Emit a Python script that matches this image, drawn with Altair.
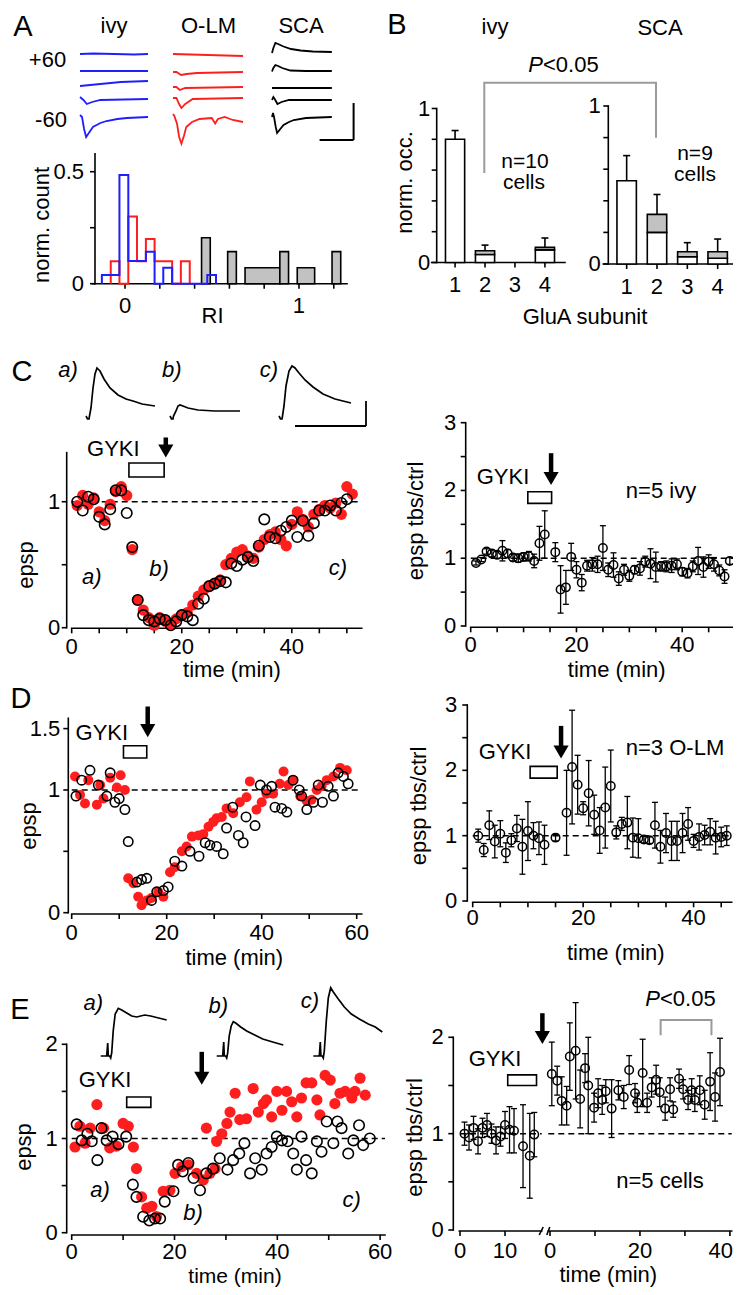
import altair as alt
import pandas as pd

# ============================ DATA ============================
# Panel A - example current traces (time units, deflection), 5 holding potentials per cell type
A_IVY_T = [[0, 20, 50, 80, 100], [0, 100], [0, 30, 60, 100], [0, 5, 10, 18, 30, 100],
           [0, 3, 6, 9, 13, 19, 30, 39, 55, 69, 100]]
A_IVY_V = [[0, 0.5, 0, -0.5, 0], [0, 0], [-1, 1, 3, 4], [2, -1, -5, -3, -1, 0],
           [2, 0, -12, -20, -16, -10, -6, -4, -2, -1, 0]]
A_OLM_T = [[0, 103], [0, 5, 12, 20, 35, 103], [0, 5, 10, 18, 103], [0, 5, 9, 12.4, 18, 29, 103],
           [0, 2, 6, 9, 12.4, 16, 19.5, 28, 39, 57, 62, 66, 76, 88, 103]]
A_OLM_V = [[1, -1], [0, 0, -3, -2, -1, 0], [0, 0, -3, -1, 0], [0, 0, -6, -10, -6, -1, 0],
           [8, 6, -2, -15, -21.7, -14, -5, 0, 3, 4, -1.5, 3, 5, 2, 0]]
A_SCA_T = [[0, 2, 5, 9, 17, 28, 42, 60, 88], [0, 2, 5, 9, 15, 27, 50, 88], [0, 88],
           [0, 2, 4, 8, 14, 25, 88], [0, 1.5, 3, 5.5, 7.5, 11, 17, 25, 32, 50, 88]]
A_SCA_V = [[-1, 4, 9, 8, 5.5, 3, 1.5, 0.5, 0], [-0.5, 3, 6, 5, 3, 0.5, 0, 0], [0, 0],
           [0, 3, 1, -4, -2, 0, 0], [0, 4, 0, -10, -16, -13, -8, -5, -3, -1, 0]]

# Panel A - RI histograms
H_BLUE_EDGES = [-0.133, -0.082, -0.032, 0.019, 0.069, 0.12, 0.17, 0.22, 0.271, 0.321, 0.372, 0.422, 0.473, 0.523]
H_BLUE = [0.039, 0.039, 0.485, 0.101, 0.101, 0.143, 0, 0.071, 0, 0, 0, 0, 0.039]
H_RED_EDGES = [-0.082, -0.032, 0.019, 0.069, 0.12, 0.17, 0.22, 0.271, 0.321, 0.372]
H_RED = [0.1, 0, 0.3, 0.1, 0.2, 0.1, 0.1, 0, 0.1]
H_GRAY_LO = [0.44, 0.59, 0.69, 0.89, 0.99, 1.19]
H_GRAY_HI = [0.49, 0.64, 0.89, 0.94, 1.09, 1.24]
H_GRAY = [0.205, 0.143, 0.071, 0.143, 0.071, 0.143]

# Panel B - GluA subunit occupancy
B_SUB = [1, 2, 3, 4]
B_IVY_MEAN = [0.80, 0.076, 0.0, 0.098]
B_IVY_WHITE = [0.80, 0.052, 0.0, 0.082]
B_IVY_ERR = [0.057, 0.037, 0.0, 0.061]
B_SCA_MEAN = [0.527, 0.314, 0.078, 0.078]
B_SCA_WHITE = [0.527, 0.20, 0.046, 0.036]
B_SCA_ERR = [0.159, 0.126, 0.057, 0.08]

# Inset epsp traces (C and E): (time, deflection)
C_TR_T = [[0, 1.5, 3, 3.5, 5, 7, 9, 11, 14, 18, 24, 32, 40, 47, 56, 69],
          [0, 1.5, 3, 3.5, 6, 8, 10, 13, 18, 28, 45, 70],
          [0, 1.5, 3, 3.5, 5, 7, 10, 13, 16, 20, 26, 34, 44, 56, 72]]
C_TR_V = [[0, -3, -3, 0, 8, 28, 42, 48, 45, 37, 28, 21, 17, 15, 12, 10],
          [0, -3, -3, 0, 5, 10, 11, 10, 8, 6, 5, 5],
          [0, -3, -3, 0, 10, 30, 45, 50, 48, 43, 36, 29, 22, 17, 13]]
E_TR_T = [[0, 6, 7, 7.6, 9, 10, 11, 12.5, 14.5, 17.6, 21, 26, 31, 36, 40, 44, 50, 58, 66],
          [0, 6, 7, 7.6, 9, 10, 11, 12.5, 14.5, 16.6, 19, 24, 30, 38, 46, 56, 66.6],
          [0, 6, 7, 7.6, 9, 10, 11, 13, 15, 17.4, 20, 25, 31, 38, 46, 55, 62, 69]]
E_TR_V = [[0, 0, 13, 0, 0, -2, 3, 25, 42, 47.7, 46, 43, 40, 39, 40, 41, 40, 38, 36],
          [0, 0, 14, 0, 0, -2, 3, 20, 30, 34.3, 33, 29, 25, 21, 17, 14, 11],
          [0, 0, 14, 0, 0, -2, 5, 35, 58, 68.3, 64, 57, 49, 42, 37, 32, 29, 24]]

# Panel C left
CL_RED_T = list(range(1, 52))
CL_RED_V = [0.97, 1.05, 0.98, 1.03, 0.92, 0.85, 0.98, 1.08, 1.12, 1.05,
            0.62, 0.22, 0.14, 0.08, 0.02, 0.08, 0.05, 0.03, 0.07, 0.10,
            0.12, 0.18, 0.25, 0.30, 0.33, 0.35, 0.38, 0.50, 0.55, 0.60,
            0.62, 0.57, 0.55, 0.64, 0.70, 0.74, 0.76, 0.70, 0.65, 0.82,
            0.92, 0.86, 0.80, 0.90, 0.94, 0.97, 0.95, 0.99, 0.90, 1.12, 1.06]
CL_BLK_T = list(range(1, 51))
CL_BLK_V = [1.00, 0.93, 1.04, 1.02, 0.88, 0.82, 0.94, 1.09, 1.09, 0.91,
            0.64, 0.22, 0.10, 0.06, 0.05, 0.07, 0.06, 0.02, 0.05, 0.10,
            0.09, 0.06, 0.19, 0.23, 0.33, 0.35, 0.37, 0.36, 0.51, 0.49,
            0.54, 0.56, 0.53, 0.65, 0.86, 0.72, 0.71, 0.77, 0.80, 0.85,
            0.72, 0.85, 0.73, 0.83, 0.93, 0.93, 0.97, 0.93, 0.99, 1.02]

# Panel C right (n=5 ivy)
CR_T = list(range(1, 15)) + list(range(16, 50))
CR_V = [0.93, 0.98, 1.10, 1.07, 1.05, 1.11, 1.07, 1.01, 1.00, 1.02, 1.03, 0.96, 1.22, 1.35,
        1.09, 0.54, 0.57, 1.02, 0.83, 0.64, 0.89, 0.91, 0.91, 1.15,
        0.83, 0.90, 0.70, 0.83, 0.74, 0.83, 0.85, 0.95, 0.92, 0.87,
        0.88, 0.88, 0.89, 0.91, 0.80, 0.78, 0.88, 0.96, 0.87, 0.95,
        0.91, 0.82, 0.73, 0.96]
CR_E = [0.03, 0.03, 0.04, 0.05, 0.05, 0.15, 0.06, 0.05, 0.06, 0.06, 0.07, 0.10, 0.25, 0.35,
        0.14, 0.35, 0.25, 0.20, 0.12, 0.12, 0.08, 0.10, 0.12, 0.33,
        0.10, 0.18, 0.10, 0.08, 0.08, 0.06, 0.10, 0.08, 0.22, 0.22,
        0.07, 0.08, 0.10, 0.08, 0.06, 0.07, 0.08, 0.20, 0.15, 0.10,
        0.10, 0.08, 0.10, 0.05]

# Panel D left
DL_BLK_T = [0.9, 2.1, 3.85, 5.6, 7.4, 8.1, 9.1, 10.0, 11.2, 11.9,
            13.7, 14.7, 15.8, 16.8, 17.9, 19.3, 20.3, 21.7, 23.2, 24.9,
            26.8, 28.1, 29.1, 30.5, 31.9, 32.6, 33.9, 35.1, 36.1, 36.7,
            38.6, 39.7, 41.0, 42.1, 42.8, 44.2, 45.3, 46.6, 47.9, 48.4,
            49.5, 50.9, 51.9, 52.8, 54.0, 55.1, 56.1, 57.2, 58.2]
DL_BLK_V = [0.95, 1.08, 1.16, 1.04, 0.95, 1.14, 0.90, 0.93, 0.84, 0.58,
            0.25, 0.27, 0.28, 0.10, 0.17, 0.18, 0.21, 0.42, 0.38, 0.50,
            0.46, 0.57, 0.55, 0.54, 0.48, 0.69, 0.86, 0.63, 0.57, 0.78,
            0.71, 1.04, 1.00, 1.03, 0.86, 0.85, 0.82, 1.08, 1.00, 0.95,
            0.84, 0.90, 1.04, 0.90, 1.03, 0.95, 1.14, 1.11, 1.05]
DL_RED_T = [0.7, 1.75, 2.8, 3.5, 5.3, 6.0, 6.7, 8.1, 9.5, 10.3,
            11.2, 11.9, 13.0, 14.0, 14.7, 15.8, 16.8, 18.2, 19.3, 20.7,
            21.7, 23.2, 24.2, 25.3, 26.7, 27.7, 28.8, 29.8, 30.5, 31.6,
            32.6, 34.0, 35.4, 36.8, 37.5, 38.9, 40.0, 41.0, 42.4, 43.8,
            44.6, 45.6, 46.6, 48.1, 49.5, 50.5, 51.6, 52.6, 53.7, 55.1,
            56.5, 57.9]
DL_RED_V = [1.11, 0.96, 0.89, 1.08, 0.88, 1.04, 0.93, 1.10, 1.02, 1.12,
            1.00, 0.28, 0.24, 0.13, 0.06, 0.10, 0.12, 0.17, 0.13, 0.33,
            0.37, 0.50, 0.54, 0.62, 0.63, 0.64, 0.70, 0.74, 0.77, 0.78,
            0.85, 0.81, 0.90, 0.94, 1.07, 0.84, 0.90, 0.97, 0.97, 1.05,
            1.15, 1.04, 1.08, 0.95, 0.91, 0.92, 1.00, 1.03, 1.08, 1.11,
            1.18, 1.16]

# Panel D right (n=3 O-LM)
DR_T = list(range(1, 14)) + [15] + list(range(17, 47))
DR_V = [1.00, 0.78, 1.16, 0.91, 1.03, 0.74, 0.93, 1.11, 0.83, 1.07, 1.00, 0.96, 0.86,
        0.97,
        1.35, 2.05, 1.78, 1.42, 1.65, 1.32, 1.08, 1.43, 1.76, 1.05,
        1.18, 1.20, 0.97, 0.96, 0.94, 0.93, 1.16, 0.83, 1.04, 0.92,
        0.92, 1.04, 1.18, 0.92, 0.98, 1.01, 1.06, 0.97, 0.98, 1.00]
DR_E = [0.10, 0.10, 0.22, 0.25, 0.20, 0.15, 0.10, 0.20, 0.42, 0.45, 0.20, 0.25, 0.30,
        0.05,
        0.65, 0.87, 0.45, 0.10, 0.50, 0.30, 0.35, 0.62, 0.55, 0.10,
        0.10, 0.40, 0.30, 0.30, 0.05, 0.05, 0.35, 0.25, 0.30, 0.30,
        0.30, 0.30, 0.25, 0.10, 0.20, 0.15, 0.20, 0.25, 0.15, 0.15]

# Panel E left
EL_BLK_T = [0.97, 1.95, 3.05, 3.9, 5.0, 5.8, 6.8, 7.96, 9.1, 10.6,
            11.9, 12.6, 13.9, 15.1, 16.2, 17.2, 18.1, 19.8, 20.7, 21.6,
            22.7, 23.7, 24.96, 26.2, 27.5, 28.8, 30.3, 31.4, 32.6, 33.6,
            34.7, 35.7, 36.96, 37.9, 38.9, 39.9, 40.9, 42.0, 43.1, 43.8,
            44.7, 45.6, 46.7, 47.7, 48.6, 49.6, 50.9, 51.7, 52.5, 53.8,
            54.8, 55.9, 56.7, 58.0]
EL_BLK_V = [1.15, 0.98, 1.05, 0.97, 0.77, 1.11, 0.98, 1.02, 0.94, 1.02,
            0.51, 0.38, 0.17, 0.13, 0.15, 0.15, 0.33, 0.44, 0.72, 0.65,
            0.74, 0.58, 0.45, 0.63, 0.68, 0.79, 0.67, 0.77, 0.84, 0.95,
            0.63, 0.79, 0.67, 0.84, 0.91, 1.02, 0.98, 0.97, 0.84, 0.67,
            1.02, 0.77, 0.63, 0.97, 0.86, 1.18, 0.95, 1.18, 1.11, 0.84,
            0.98, 1.14, 0.93, 1.00]
EL_RED_T = [0.65, 1.6, 2.6, 3.6, 4.9, 6.2, 7.4, 8.7, 10.0, 11.0,
            12.0, 12.6, 13.6, 14.6, 15.6, 16.5, 17.8, 19.1, 20.1, 21.4,
            22.7, 24.3, 25.6, 26.2, 26.9, 27.9, 28.2, 29.2, 30.2, 30.8,
            31.8, 32.7, 34.0, 35.3, 36.3, 37.3, 37.9, 38.9, 39.9, 40.9,
            41.8, 42.8, 43.8, 44.7, 45.6, 46.7, 47.7, 48.3, 49.3, 50.3,
            51.2, 52.2, 53.2, 54.5, 55.1, 56.1, 57.1]
EL_RED_V = [0.91, 1.13, 0.95, 1.11, 1.36, 1.11, 0.90, 0.92, 1.16, 1.13,
            0.91, 0.68, 0.38, 0.26, 0.28, 0.17, 0.44, 0.45, 0.63, 0.70,
            0.72, 0.63, 0.56, 1.11, 0.63, 0.68, 0.97, 1.05, 1.16, 1.28,
            1.48, 1.20, 1.21, 1.53, 1.28, 1.37, 1.41, 1.23, 1.50, 1.30,
            1.50, 1.39, 1.23, 1.43, 1.59, 1.59, 1.41, 1.25, 1.67, 1.62,
            1.37, 1.48, 1.50, 1.43, 1.50, 1.64, 1.46]

# Panel E right (n=5 cells): baseline segment and post-TBS segment
ER1_T = [1, 2, 3, 4, 5, 6, 7, 8, 9, 10, 11, 12, 14, 15.5, 16.5]
ER1_V = [1.00, 0.96, 1.06, 0.92, 1.06, 1.09, 1.00, 0.93, 0.97, 1.09, 1.04, 1.03, 0.87, 0.77, 0.99]
ER1_E = [0.12, 0.13, 0.12, 0.13, 0.10, 0.12, 0.10, 0.14, 0.10, 0.14, 0.24, 0.23, 0.43, 0.44, 0.23]
ER2_T = [0.4, 1.6, 2.6, 3.7, 4.4, 5.7, 6.7, 7.8, 8.5, 9.8,
         10.7, 11.6, 12.4, 13.7, 15.2, 16.4, 17.6, 18.9, 19.4, 20.6,
         21.6, 22.6, 23.6, 24.4, 25.6, 26.7, 27.4, 28.7, 29.6, 30.7,
         31.5, 32.2, 33.3, 34.4, 35.6, 36.7, 37.8]
ER2_V = [1.62, 1.55, 1.34, 1.29, 1.80, 1.86, 1.36, 1.68, 1.50, 1.27,
         1.42, 1.35, 1.44, 1.26, 1.45, 1.38, 1.66, 1.42, 1.32, 1.63,
         1.32, 1.48, 1.56, 1.43, 1.26, 1.46, 1.25, 1.57, 1.46, 1.35,
         1.45, 1.35, 1.45, 1.30, 1.54, 1.38, 1.64]
ER2_E = [0.33, 0.15, 0.25, 0.20, 0.35, 0.50, 0.30, 0.15, 0.50, 0.15,
         0.15, 0.15, 0.12, 0.30, 0.10, 0.12, 0.15, 0.10, 0.10, 0.35,
         0.10, 0.10, 0.15, 0.15, 0.12, 0.12, 0.08, 0.10, 0.10, 0.10,
         0.12, 0.12, 0.15, 0.15, 0.30, 0.25, 0.35]

# ============================ STYLE / LAYOUT ============================
FONT = "Liberation Sans"
FS = 22
RED = "#ff1e1e"
BLUE = "#1e1eff"
BRACKET = "#9a9a9a"
FILL = "#c2c2c2"
AXW = 1.6
TICK = 5
W, H = 725, 1279


def P(v):
    return v - 8


def sc(domain, r0, r1):
    return alt.Scale(domain=list(domain), range=[P(r0), P(r1)], nice=False, zero=False)


def ex(f, s):
    return alt.X(f, type="quantitative", scale=s, axis=None)


def ey(f, s):
    return alt.Y(f, type="quantitative", scale=s, axis=None)


def yaxis_marks(xs, ys, xat, y0, y1, ticks, labels, dx, pad):
    d = pd.DataFrame({"x": [xat], "y": [y0], "y2": [y1]})
    line = alt.Chart(d).mark_rule(color="black", strokeWidth=AXW, xOffset=dx, strokeCap="square").encode(
        x=ex("x", xs), y=ey("y", ys), y2="y2")
    dt = pd.DataFrame({"x": [xat] * len(ticks), "y": ticks})
    tk = alt.Chart(dt).mark_rule(color="black", strokeWidth=AXW, xOffset=dx, x2Offset=dx - TICK).encode(
        x=ex("x", xs), x2="x", y=ey("y", ys))
    dl = pd.DataFrame({"x": [xat] * len(labels), "y": list(labels.keys()), "t": list(labels.values())})
    lb = alt.Chart(dl).mark_text(font=FONT, fontSize=FS, align="right", baseline="middle",
                                 dx=dx - TICK - pad, color="black").encode(
        x=ex("x", xs), y=ey("y", ys), text=alt.Text("t", type="nominal"))
    return [line, tk, lb]


def xaxis_marks(xs, ys, yat, x0, x1, ticks, labels, dy, pad, last_right=False):
    d = pd.DataFrame({"x": [x0], "x2": [x1], "y": [yat]})
    line = alt.Chart(d).mark_rule(color="black", strokeWidth=AXW, yOffset=dy, strokeCap="square").encode(
        x=ex("x", xs), x2="x2", y=ey("y", ys))
    dt = pd.DataFrame({"x": ticks, "y": [yat] * len(ticks)})
    tk = alt.Chart(dt).mark_rule(color="black", strokeWidth=AXW, yOffset=dy, y2Offset=dy + TICK).encode(
        x=ex("x", xs), y=ey("y", ys), y2="y")
    keys = list(labels.keys())
    main = keys[:-1] if last_right else keys
    out = [line, tk]
    dl = pd.DataFrame({"x": main, "y": [yat] * len(main), "t": [labels[k] for k in main]})
    out.append(alt.Chart(dl).mark_text(font=FONT, fontSize=FS, align="center", baseline="top",
                                       dy=dy + TICK + pad, color="black").encode(
        x=ex("x", xs), y=ey("y", ys), text=alt.Text("t", type="nominal")))
    if last_right:
        dr = pd.DataFrame({"x": [keys[-1]], "y": [yat], "t": [labels[keys[-1]]]})
        out.append(alt.Chart(dr).mark_text(font=FONT, fontSize=FS, align="right", baseline="top",
                                           dx=3, dy=dy + TICK + pad, color="black").encode(
            x=ex("x", xs), y=ey("y", ys), text=alt.Text("t", type="nominal")))
    return out


def dash(xs, ys, x0, x1):
    d = pd.DataFrame({"x": [x0], "x2": [x1], "y": [1.0]})
    return alt.Chart(d).mark_rule(color="black", strokeWidth=1.5, strokeDash=[6, 4]).encode(
        x=ex("x", xs), x2="x2", y=ey("y", ys))


def gyki(xs, ys, t0, t1, v0, v1):
    d = pd.DataFrame({"x": [t0], "x2": [t1], "y": [v0], "y2": [v1]})
    return alt.Chart(d).mark_rect(fill="white", stroke="black", strokeWidth=1.6).encode(
        x=ex("x", xs), x2="x2", y=ey("y", ys), y2="y2")


def arrow(xs, ys, t, vtop, vtip):
    d = pd.DataFrame({"x": [t], "y": [vtop], "y2": [vtip]})
    shaft = alt.Chart(d).mark_rule(color="black", strokeWidth=4.5, y2Offset=-8).encode(
        x=ex("x", xs), y=ey("y", ys), y2="y2")
    head = alt.Chart(d).mark_point(shape="triangle-down", filled=True, size=230, color="black",
                                   opacity=1, yOffset=-6.6, strokeWidth=0).encode(
        x=ex("x", xs), y=ey("y2", ys))
    return [shaft, head]


def ocirc(xs, ys, t, v, size, sw=1.6):
    d = pd.DataFrame({"x": t, "y": v})
    return alt.Chart(d).mark_point(shape="circle", filled=False, size=size, color="black",
                                   strokeWidth=sw, opacity=1).encode(x=ex("x", xs), y=ey("y", ys))


def fcirc(xs, ys, t, v, size):
    d = pd.DataFrame({"x": t, "y": v})
    return alt.Chart(d).mark_circle(size=size, color=RED, opacity=1).encode(
        x=ex("x", xs), y=ey("y", ys))


def errbars(xs, ys, t, v, e, cap=6):
    d = pd.DataFrame({"x": t, "lo": [a - b for a, b in zip(v, e)], "hi": [a + b for a, b in zip(v, e)]})
    r = alt.Chart(d).mark_rule(color="black", strokeWidth=1.3).encode(x=ex("x", xs), y=ey("lo", ys), y2="hi")
    c1 = alt.Chart(d).mark_tick(orient="horizontal", size=cap, thickness=1.3, color="black", opacity=1).encode(
        x=ex("x", xs), y=ey("lo", ys))
    c2 = alt.Chart(d).mark_tick(orient="horizontal", size=cap, thickness=1.3, color="black", opacity=1).encode(
        x=ex("x", xs), y=ey("hi", ys))
    return [r, c1, c2]


def lines(rows, xs, ys, color, width):
    d = pd.DataFrame(rows)
    return alt.Chart(d).mark_line(color=color, strokeWidth=width).encode(
        x=ex("x", xs), y=ey("y", ys), detail="id:N", order="k:Q")


def segs(xs, ys, rows, color="black", width=1.8):
    d = pd.DataFrame(rows, columns=["x", "y", "x2", "y2"])
    return alt.Chart(d).mark_rule(color=color, strokeWidth=width).encode(
        x=ex("x", xs), y=ey("y", ys), x2="x2", y2="y2")


children = []

# ---------------- Panel A traces ----------------
A_TOP = 45
for T, V, bases, x0, x1, xmax, col in [
        (A_IVY_T, A_IVY_V, [54, 71, 85, 99, 117], 80, 148, 100, BLUE),
        (A_OLM_T, A_OLM_V, [55, 72, 87, 98, 122], 173, 243.04, 103, RED),
        (A_SCA_T, A_SCA_V, [52, 71, 88, 100, 117], 272, 331.84, 88, "black")]:
    rows = []
    for j, (tt, vv) in enumerate(zip(T, V)):
        for k, (a, b) in enumerate(zip(tt, vv)):
            rows.append({"id": j, "k": k, "x": a, "y": bases[j] - A_TOP - b})
    xs = sc([0, xmax], x0, x1)
    ys = sc([0, 100], A_TOP, A_TOP + 100)
    lay = [lines(rows, xs, ys, col, 1.8)]
    if col == "black":
        lay.append(segs(xs, ys, [(70, 95, 120, 95), (120, 58, 120, 95)], width=2))
    children.append(alt.layer(*lay))

# ---------------- Panel A histogram ----------------
HX = sc([-0.184, 1.276], 93, 347)
HY = sc([0, 0.58], 283.7, 153.8)
hist = yaxis_marks(HX, HY, -0.184, 0, 0.58, [0, 0.25, 0.5], {0: "0", 0.5: "0.5"}, 2, 6) + \
    xaxis_marks(HX, HY, 0, -0.184, 1.276, [0, 0.2, 0.4, 0.6, 0.8, 1.0, 1.2], {0: "0", 1: "1"}, 0, 7.5)
gdf = pd.DataFrame({"x": H_GRAY_LO, "x2": H_GRAY_HI, "y": [0] * len(H_GRAY), "y2": H_GRAY})
hist.append(alt.Chart(gdf).mark_rect(fill=FILL, stroke="black", strokeWidth=1.6).encode(
    x=ex("x", HX), x2="x2", y=ey("y", HY), y2="y2"))
for edges, hh, col in [(H_RED_EDGES, H_RED, RED), (H_BLUE_EDGES, H_BLUE, BLUE)]:
    xsv = [edges[0]] + edges[:-1] + [edges[-1]]
    ysv = [0] + list(hh) + [0]
    d = pd.DataFrame({"x": xsv, "y": ysv, "k": list(range(len(xsv)))})
    hist.append(alt.Chart(d).mark_line(color=col, strokeWidth=2, interpolate="step-after").encode(
        x=ex("x", HX), y=ey("y", HY), order="k:Q"))
children.append(alt.layer(*hist))


# ---------------- Panel B bars ----------------
def bar_panel(xs, ys, x0, x1, mean, white, err, ylabpad):
    half = 0.32
    d = pd.DataFrame({"s": B_SUB, "l": [s - half for s in B_SUB], "r": [s + half for s in B_SUB],
                      "z": [0] * 4, "w": white, "m": mean, "hi": [a + b for a, b in zip(mean, err)]})
    dw = d[d.w > 0]
    dg = d[d.m > d.w + 1e-9]
    de = d[d.m > 0]
    lay = yaxis_marks(xs, ys, x0, 0, 1, [0, 0.2, 0.4, 0.6, 0.8, 1.0], {0: "0", 1: "1"}, 5, ylabpad) + \
        xaxis_marks(xs, ys, 0, x0, x1, B_SUB, {1: "1", 2: "2", 3: "3", 4: "4"}, 0, 7.5)
    lay += [
        alt.Chart(de).mark_rule(color="black", strokeWidth=1.6).encode(
            x=ex("s", xs), y=ey("m", ys), y2="hi"),
        alt.Chart(de).mark_tick(orient="horizontal", size=7, thickness=1.6, color="black", opacity=1).encode(
            x=ex("s", xs), y=ey("hi", ys)),
        alt.Chart(dw).mark_rect(fill="white", stroke="black", strokeWidth=1.6).encode(
            x=ex("l", xs), x2="r", y=ey("z", ys), y2="w"),
        alt.Chart(dg).mark_rect(fill=FILL, stroke="black", strokeWidth=1.6).encode(
            x=ex("l", xs), x2="r", y=ey("w", ys), y2="m"),
    ]
    return alt.layer(*lay)


children.append(bar_panel(sc([0.22, 4.67], 431.7, 565), sc([0, 1], 262.5, 108.5), 0.22, 4.67,
                          B_IVY_MEAN, B_IVY_WHITE, B_IVY_ERR, 1.5))
children.append(bar_panel(sc([0.23, 4.68], 603.3, 738.3), sc([0, 1], 264, 106), 0.23, 4.68,
                          B_SCA_MEAN, B_SCA_WHITE, B_SCA_ERR, 2.5))
BRX = sc([0, 1], 484.3, 656)
BRY = sc([0, 1], 173, 82.7)
bd = pd.DataFrame({"x": [0, 0, 1, 1], "y": [0, 1, 1, 0.39], "k": [0, 1, 2, 3]})
children.append(alt.layer(alt.Chart(bd).mark_line(color=BRACKET, strokeWidth=2).encode(
    x=ex("x", BRX), y=ey("y", BRY), order="k:Q")))


# ---------------- inset traces (C, E) ----------------
def inset(T, V, offs, x0, base, ymax, bar=None):
    rows = []
    for j, (tt, vv) in enumerate(zip(T, V)):
        for k, (a, b) in enumerate(zip(tt, vv)):
            rows.append({"id": j, "k": k, "x": offs[j] + a, "y": b})
    xs = sc([0, 300], x0, x0 + 300)
    ys = sc([0, ymax], base, base - ymax)
    lay = [lines(rows, xs, ys, "black", 1.7)]
    if bar:
        lay.append(segs(xs, ys, bar, width=1.8))
    return alt.layer(*lay)


children.append(inset(C_TR_T, C_TR_V, [0, 84, 193], 86, 416, 60,
                      bar=[(209, -10, 280, -10), (280, -10, 280, 15)]))
children.append(inset(E_TR_T, E_TR_V, [0, 116, 212.6], 100.7, 1056, 80))


# ---------------- time-course panels ----------------
def left_panel(xdom, xr, ydom, yr, ydx, xdy, yt, yl, ylpad, xt, xl, xlpad, box, arr,
               red_t, red_v, blk_t, blk_v, rsize, bsize):
    xs = sc(xdom, *xr)
    ys = sc(ydom, *yr)
    lay = yaxis_marks(xs, ys, xdom[0], ydom[0], ydom[1], yt, yl, ydx, ylpad) + \
        xaxis_marks(xs, ys, ydom[0], xdom[0], xdom[1], xt, xl, xdy, xlpad)
    lay += [dash(xs, ys, xdom[0], xdom[1]), gyki(xs, ys, *box)] + arrow(xs, ys, *arr)
    lay += [fcirc(xs, ys, red_t, red_v, rsize), ocirc(xs, ys, blk_t, blk_v, bsize)]
    return alt.layer(*lay)


def right_panel(xdom, xr, ydom, yr, ydx, xdy, yt, yl, ylpad, xt, xl, xlpad, box, arr, t, v, e):
    xs = sc(xdom, *xr)
    ys = sc(ydom, *yr)
    lay = yaxis_marks(xs, ys, xdom[0], ydom[0], ydom[1], yt, yl, ydx, ylpad) + \
        xaxis_marks(xs, ys, ydom[0], xdom[0], xdom[1], xt, xl, xdy, xlpad)
    lay += [dash(xs, ys, xdom[0], xdom[1]), gyki(xs, ys, *box)] + arrow(xs, ys, *arr)
    lay += errbars(xs, ys, t, v, e) + [ocirc(xs, ys, t, v, 72, 1.5)]
    return alt.layer(*lay)


Y3 = [0, 0.5, 1, 1.5, 2, 2.5, 3]
L3 = {0: "0", 1: "1", 2: "2", 3: "3"}

children.append(left_panel([0, 52.7], (71.7, 361.7), [0, 1.39], (627.7, 452.6), -5, 0.6,
                           [0, 0.5, 1], {0: "0", 1: "1"}, 1.5,
                           list(range(0, 51, 5)), {0: "0", 20: "20", 40: "40"}, 3.4,
                           (10.4, 16.8, 1.196, 1.307), (17.1, 1.51, 1.35),
                           CL_RED_T, CL_RED_V, CL_BLK_T, CL_BLK_V, 125, 110))
children.append(right_panel([0, 50.3], (470.7, 736.7), [0, 3], (626, 422.7), -5, 1.3,
                            Y3, L3, 4.5, list(range(0, 51, 5)), {0: "0", 20: "20", 40: "40"}, 2.8,
                            (10.8, 15.3, 1.81, 1.98), (15.2, 2.55, 2.08), CR_T, CR_V, CR_E))
children.append(left_panel([0, 61.05], (71.7, 361.7), [0, 1.584], (912.7, 718.3), -3.4, 1.3,
                           [0, 0.5, 1, 1.5], {0: "0", 1: "1", 1.5: "1.5"}, 3,
                           list(range(0, 61, 10)), {0: "0", 20: "20", 40: "40", 60: "60"}, 4.4,
                           (10.9, 15.8, 1.26, 1.36), (16, 1.68, 1.43),
                           DL_RED_T, DL_RED_V, DL_BLK_T, DL_BLK_V, 100, 88))
children.append(right_panel([0, 46.9], (472.7, 731.7), [0, 3], (901, 705), -5.4, 1.3,
                            Y3, L3, 5, list(range(0, 46, 5)), {0: "0", 20: "20", 40: "40"}, 0.5,
                            (10.4, 15.3, 1.88, 2.06), (16, 2.68, 2.18), DR_T, DR_V, DR_E))
children.append(left_panel([0, 60.95], (71.7, 385), [0, 2], (1232.7, 1044.3), -5, 2.3,
                           [0, 0.5, 1, 1.5, 2], {0: "0", 1: "1", 2: "2"}, 4,
                           list(range(0, 61, 10)), {0: "0", 20: "20", 40: "40", 60: "60"}, 2.0,
                           (10.7, 15.4, 1.33, 1.44), (25.3, 1.92, 1.57),
                           EL_RED_T, EL_RED_V, EL_BLK_T, EL_BLK_V, 125, 110))

# Panel E right, segment 1 (baseline, with y axis)
xs = sc([-0.16, 18.15], 459.3, 541.7)
ys = sc([0, 2], 1230, 1037.3)
lay = yaxis_marks(xs, ys, -0.16, 0, 2, [0, 0.5, 1, 1.5, 2], {0: "0", 1: "1", 2: "2"}, -6, 4.5) + \
    xaxis_marks(xs, ys, 0, -0.16, 18.15, [0, 10], {0: "0", 10: "10"}, 1, 5)
brk1 = pd.DataFrame({"x": [18.15], "y": [0]})
lay.append(alt.Chart(brk1).mark_rule(color="black", strokeWidth=1.6, xOffset=-2.5, x2Offset=1.5,
                                     yOffset=5, y2Offset=-3).encode(
    x=ex("x", xs), x2="x", y=ey("y", ys), y2="y"))
lay += [dash(xs, ys, 0, 18.15), gyki(xs, ys, 10.6, 17.0, 1.5, 1.61)] + arrow(xs, ys, 18.3, 2.25, 1.93)
lay += errbars(xs, ys, ER1_T, ER1_V, ER1_E) + [ocirc(xs, ys, ER1_T, ER1_V, 72, 1.5)]
children.append(alt.layer(*lay))

# Panel E right, segment 2 (after TBS)
xs = sc([-0.38, 40.4], 548.3, 731.7)
ys = sc([0, 2], 1230, 1037.3)
lay = xaxis_marks(xs, ys, 0, -0.38, 40.4, [0, 10, 20, 30, 40], {0: "0", 20: "20", 40: "40"}, 1, 5,
                  last_right=True)
brk2 = pd.DataFrame({"x": [-0.38], "y": [0]})
lay.append(alt.Chart(brk2).mark_rule(color="black", strokeWidth=1.6, xOffset=-1.5, x2Offset=1.5,
                                     yOffset=5, y2Offset=-3).encode(
    x=ex("x", xs), x2="x", y=ey("y", ys), y2="y"))
brk = pd.DataFrame({"x": [24.6, 24.6, 35.9, 35.9], "y": [2.02, 2.18, 2.18, 2.02], "k": [0, 1, 2, 3]})
lay += [dash(xs, ys, -0.38, 40.4),
        alt.Chart(brk).mark_line(color=BRACKET, strokeWidth=2).encode(
            x=ex("x", xs), y=ey("y", ys), order="k:Q")]
lay += errbars(xs, ys, ER2_T, ER2_V, ER2_E) + [ocirc(xs, ys, ER2_T, ER2_V, 72, 1.5)]
children.append(alt.layer(*lay))

# ---------------- text annotations (page coordinates) ----------------
PXS = sc([0, 741], 0, 741)
PYS = sc([0, 1295], 0, 1295)


def texts(rows, size=FS, style="normal", align="center", angle=0):
    d = pd.DataFrame(rows, columns=["x", "y", "t"])
    return alt.Chart(d).mark_text(font=FONT, fontSize=size, fontStyle=style, align=align,
                                  baseline="middle", color="black", angle=angle).encode(
        x=ex("x", PXS), y=ey("y", PYS), text=alt.Text("t", type="nominal"))


LETTERS = [(23, 26.7, "A"), (397, 25, "B"), (22, 371.7, "C"), (21, 699, "D"), (20, 1009.7, "E")]
LABELS = [(114, 26, "ivy"), (208.5, 26, "O-LM"), (301, 26, "SCA"), (47.5, 59.5, "+60"), (51, 119.5, "-60"),
          (495, 27, "ivy"), (660, 28, "SCA"),
          (113.3, 449, "GYKI"), (503, 477, "GYKI"), (101.8, 733, "GYKI"), (505, 752, "GYKI"),
          (105, 1080.3, "GYKI"), (495, 1059, "GYKI"),
          (661, 490.5, "n=5 ivy"), (675, 748, "n=3 O-LM"), (660, 1181, "n=5 cells"),
          (212.5, 315.7, "RI"), (585, 316.7, "GluA subunit"),
          (232, 670, "time (min)"), (616.7, 670, "time (min)"), (234.3, 958, "time (min)"),
          (615.8, 952.5, "time (min)"), (608.3, 1275, "time (min)")]
BOTTOM = [(235, 1277, "time (min)")]
NCELLS = [(525, 161.5, "n=10"), (524, 182.5, "cells"), (695, 154, "n=9"), (695, 175, "cells")]
YTITLES = [(41.5, 225, "norm. count"), (405, 182.5, "norm. occ."),
           (26, 565, "epsp"), (28.5, 826, "epsp"), (23.5, 1147, "epsp"),
           (415.7, 521, "epsp tbs/ctrl"), (419.3, 806, "epsp tbs/ctrl"), (414.8, 1137.5, "epsp tbs/ctrl")]
ITALIC = [(68, 370, "a)"), (171.7, 370, "b)"), (269, 370, "c)"),
          (91.7, 576.7, "a)"), (159, 568.7, "b)"), (338, 567.5, "c)"),
          (93.3, 1002.5, "a)"), (218.3, 1005.5, "b)"), (310, 1000.5, "c)"),
          (100, 1190, "a)"), (193, 1212.5, "b)"), (351.7, 1200, "c)")]
PV_P = [(543, 65, "P"), (660, 999, "P")]
PV_REST = [(543, 65, "<0.05"), (660, 999, "<0.05")]

children.append(alt.layer(
    texts(LETTERS, size=29),
    texts(LABELS),
    texts(BOTTOM, size=21),
    texts(NCELLS, size=21),
    texts(YTITLES, angle=270),
    texts(ITALIC, style="italic"),
    texts(PV_P, style="italic", align="right"),
    texts(PV_REST, align="left"),
))

chart = alt.layer(*children).resolve_scale(
    x="independent", y="independent"
).properties(
    width=W, height=H, padding=0, autosize=alt.AutoSizeParams(type="none")
).configure(font=FONT).configure_view(stroke=None)

chart.save("out.html", embed_options={"renderer": "svg", "actions": False})
